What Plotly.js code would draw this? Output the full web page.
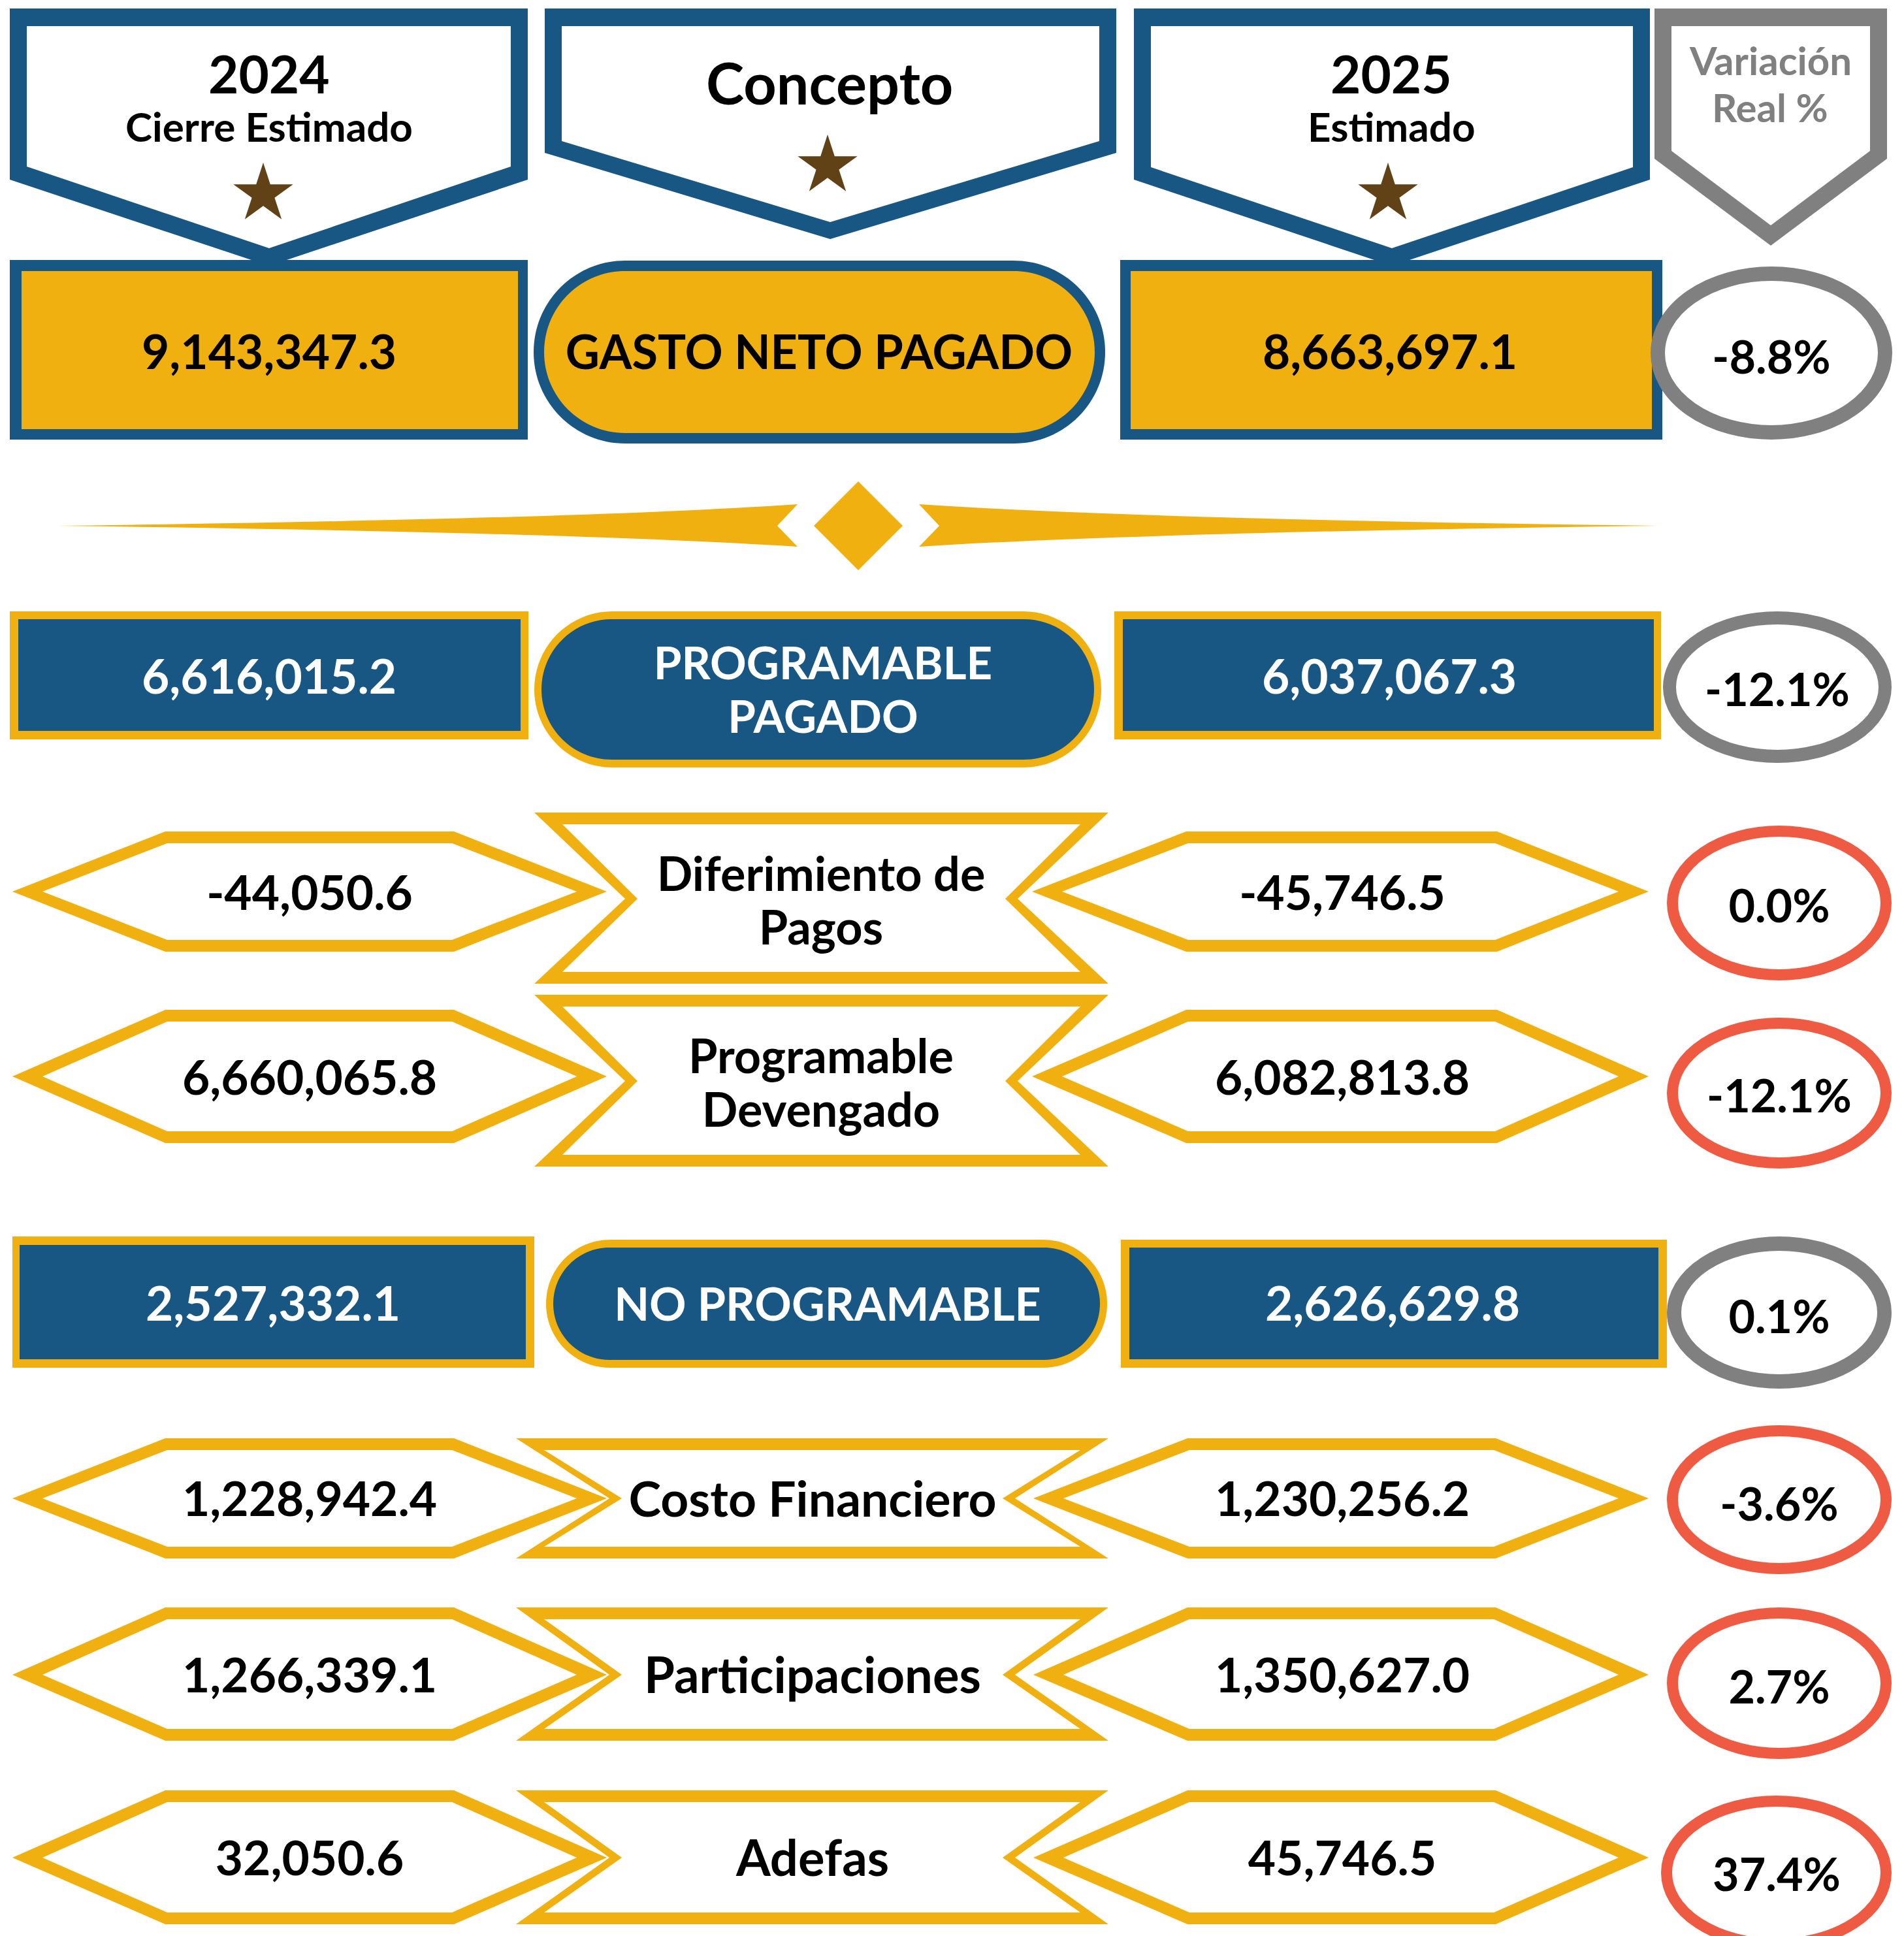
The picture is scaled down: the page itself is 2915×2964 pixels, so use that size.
<!DOCTYPE html>
<html><head><meta charset="utf-8">
<script src="https://cdn.plot.ly/plotly-3.0.1.min.js"></script>
<style>html,body{margin:0;padding:0;background:#fff;}</style>
</head><body><div id="chart" style="width:2915px;height:2964px;"></div>
<script>
// ---------------- DATA ----------------
const conceptos = ["GASTO NETO PAGADO", "PROGRAMABLE<br>PAGADO", "Diferimiento de<br>Pagos", "Programable<br>Devengado", "NO PROGRAMABLE", "Costo Financiero", "Participaciones", "Adefas"];
const cierre2024 = [9143347.3, 6616015.2, -44050.6, 6660065.8, 2527332.1, 1228942.4, 1266339.1, 32050.6];
const estimado2025 = [8663697.1, 6037067.3, -45746.5, 6082813.8, 2626629.8, 1230256.2, 1350627.0, 45746.5];
const variacionReal = [-8.8, -12.1, 0.0, -12.1, 0.1, -3.6, 2.7, 37.4];
const headerTitles = ["2024", "Concepto", "2025", "Variación"];
const headerSubtitles = ["Cierre Estimado", "", "Estimado", "Real %"];

// ---------------- STYLE / LAYOUT ----------------
const W = 2915, H = 2964;
const BLUE = "#185784", GOLD = "#F0B010", GRAY = "#808080", RED = "#EE5A42", BROWN = "#604216";
const FONT = "Lato, 'Noto Sans', 'DejaVu Sans', sans-serif";

const shapes = [];
function pathShape(d, fill) {
  shapes.push({type: 'path', path: d, fillcolor: fill, line: {width: 0}, layer: 'below', xref: 'x', yref: 'y'});
}
function poly(pts, fill) {
  pathShape('M' + pts.map(p => p[0] + ',' + p[1]).join(' L') + ' Z', fill);
}
function rect(x0, y0, x1, y1, fill) {
  shapes.push({type: 'rect', x0: x0, y0: y0, x1: x1, y1: y1, fillcolor: fill, line: {width: 0}, layer: 'below', xref: 'x', yref: 'y'});
}
function stadium(x0, y0, x1, y1, fill) {
  const r = (y1 - y0) / 2, k = 0.5523 * r;
  const d = `M${x0 + r},${y0} L${x1 - r},${y0} C${x1 - r + k},${y0} ${x1},${y0 + r - k} ${x1},${y0 + r} ` +
    `C${x1},${y0 + r + k} ${x1 - r + k},${y1} ${x1 - r},${y1} L${x0 + r},${y1} ` +
    `C${x0 + r - k},${y1} ${x0},${y0 + r + k} ${x0},${y0 + r} C${x0},${y0 + r - k} ${x0 + r - k},${y0} ${x0 + r},${y0} Z`;
  pathShape(d, fill);
}
function ellipse(x0, y0, x1, y1, color, w) {
  shapes.push({type: 'circle', x0: x0 + w / 2, y0: y0 + w / 2, x1: x1 - w / 2, y1: y1 - w / 2,
    fillcolor: '#ffffff', line: {color: color, width: w}, layer: 'below', xref: 'x', yref: 'y'});
}
function star(cx, cy, R, fill) {
  const pts = [];
  for (let i = 0; i < 10; i++) {
    const a = (-90 + i * 36) * Math.PI / 180;
    const r = (i % 2) ? R * 0.382 : R;
    pts.push([(cx + r * Math.cos(a)).toFixed(1), (cy + r * Math.sin(a)).toFixed(1)]);
  }
  poly(pts, fill);
}
function hexagon(L, TL, TR, R, top, bot, mid) {
  poly([[L, mid], [TL, top], [TR, top], [R, mid], [TR, bot], [TL, bot]], GOLD);
  poly([[L + 46, mid], [TL + 3, top + 18], [TR - 3, top + 18], [R - 46, mid], [TR - 3, bot - 18], [TL + 3, bot - 18]], '#ffffff');
}
function hourglass(TL, TR, ML, MR, top, bot, mid) {
  poly([[TL, top], [TR, top], [MR, mid], [TR, bot], [TL, bot], [ML, mid]], GOLD);
  poly([[TL + 43, top + 18], [TR - 43, top + 18], [MR - 19, mid], [TR - 43, bot - 18], [TL + 43, bot - 18], [ML + 19, mid]], '#ffffff');
}

// ---- header banners ----
function banner(x0, x1, px, sideY, ptY, inX0, inX1, inTop, inSide, inPt, color) {
  poly([[x0, 13], [x1, 13], [x1, sideY], [px, ptY], [x0, sideY]], color);
  poly([[inX0, inTop], [inX1, inTop], [inX1, inSide], [px, inPt], [inX0, inSide]], '#ffffff');
}
banner(15, 808, 412, 275, 407, 41, 782, 40, 255, 380, BLUE);
banner(834, 1709, 1271, 234, 366, 860, 1683, 40, 216, 340, BLUE);
banner(1736, 2526, 2131, 275, 407, 1762, 2500, 40, 256, 380, BLUE);
banner(2533, 2889, 2711, 243, 376, 2559, 2863, 40, 231, 345, GRAY);
star(403, 297, 48, BROWN);
star(1267, 254, 48, BROWN);
star(2125, 297, 48, BROWN);

// ---- row 0 : GASTO NETO PAGADO ----
rect(15, 398, 808, 673, BLUE); rect(33, 415, 793, 657, GOLD);
stadium(817, 399, 1692, 679, BLUE); stadium(833, 415, 1676, 663, GOLD);
rect(1715, 398, 2545, 673, BLUE); rect(1731, 415, 2529, 657, GOLD);
ellipse(2527, 408, 2897, 673, GRAY, 22);

// ---- ornament divider ----
pathShape('M89,805 Q880,795 1221,772 L1190,805 L1221,837 Q880,815 89,805 Z', GOLD);
pathShape('M2539,805 Q1748,795 1407,772 L1438,805 L1407,837 Q1748,815 2539,805 Z', GOLD);
poly([[1314, 737], [1382, 805], [1314, 873], [1246, 805]], GOLD);

// ---- row 1 : PROGRAMABLE PAGADO ----
rect(15, 936, 809, 1132, GOLD); rect(28, 948, 797, 1119, BLUE);
stadium(818, 936, 1686, 1175, GOLD); stadium(829, 948, 1675, 1163, BLUE);
rect(1706, 936, 2543, 1132, GOLD); rect(1719, 948, 2532, 1119, BLUE);
ellipse(2546, 936, 2896, 1168, GRAY, 20);

// ---- row 2 / 3 ----
hexagon(19, 253, 695, 929, 1273, 1457, 1365);
hourglass(818, 1697, 957, 1558, 1244, 1506, 1376);
hexagon(1580, 1816, 2292, 2524, 1273, 1457, 1365);
ellipse(2552, 1264, 2896, 1501, RED, 17);

hexagon(19, 253, 695, 929, 1546, 1750, 1648);
hourglass(818, 1697, 957, 1558, 1523, 1786, 1655);
hexagon(1580, 1816, 2292, 2524, 1546, 1750, 1648);
ellipse(2552, 1558, 2896, 1789, RED, 17);

// ---- row 4 : NO PROGRAMABLE ----
rect(19, 1893, 818, 2094, GOLD); rect(30, 1906, 805, 2081, BLUE);
stadium(836, 1898, 1695, 2094, GOLD); stadium(847, 1910, 1684, 2082, BLUE);
rect(1716, 1898, 2552, 2094, GOLD); rect(1729, 1910, 2539, 2081, BLUE);
ellipse(2552, 1893, 2896, 2126, GRAY, 22);

// ---- rows 5-7 ----
const hexRows = [[2202, 2386, 2294, 2182, 2410, 2552], [2461, 2665, 2564, 2461, 2693, 2552], [2741, 2946, 2844, 2749, 2985, 2543]];
hexRows.forEach(r => {
  hexagon(19, 253, 695, 929, r[0], r[1], r[2]);
  hourglass(790, 1697, 933, 1554, r[0], r[1], r[2]);
  hexagon(1582, 1818, 2290, 2524, r[0], r[1], r[2]);
  ellipse(r[5], r[3], 2896, r[4], RED, 17);
});

// ---------------- TEXT POSITIONS ----------------
const DY = 8;          // baseline correction of plotly text boxes
const LINE_GAP = 82;   // spacing between the two lines of a concept
const val2024X = [412, 412, 474, 474, 418, 474, 474, 474];
const valY = [539, 1036, 1367, 1650, 1996, 2295, 2565, 2845];
const conceptX = [1254, 1260, 1257, 1257, 1267, 1244, 1244, 1244];
const conceptY = [539, 1056, 1379, 1658, 1996, 2295, 2565, 2845];
const val2025X = [2128, 2127, 2055, 2055, 2132, 2055, 2055, 2055];
const varX = [2712, 2721, 2724, 2724, 2724, 2724, 2724, 2720];
const varY = [546, 1055, 1386, 1677, 2015, 2302, 2582, 2869];
const whiteRows = [1, 4];
const txtColor = i => whiteRows.includes(i) ? '#ffffff' : '#000000';
const conceptSizes = [72, 69, 72, 72, 70, 75, 76, 76];

const fmt = v => v.toLocaleString('en-US', {minimumFractionDigits: 1, maximumFractionDigits: 1});
const fmtPct = v => v.toFixed(1) + '%';

function textTrace(x, y, text, color, size) {
  return {type: 'scatter', mode: 'text', x: x, y: y.map(v => v + DY), text: text, textposition: 'middle center',
    textfont: {family: FONT, size: size, color: color, weight: 700}, hoverinfo: 'skip', cliponaxis: false, showlegend: false};
}

// split concept labels into single lines so the line gap matches
const cX = [], cY = [], cT = [], cC = [], cS = [];
conceptos.forEach((c, i) => {
  const lines = c.split('<br>');
  lines.forEach((ln, j) => {
    cX.push(conceptX[i]);
    cY.push(conceptY[i] + (j - (lines.length - 1) / 2) * LINE_GAP);
    cT.push(ln); cC.push(txtColor(i)); cS.push(conceptSizes[i]);
  });
});

const traces = [
  textTrace(val2024X, valY, cierre2024.map(fmt), cierre2024.map((v, i) => txtColor(i)), 73),
  textTrace(cX, cY, cT, cC, cS),
  textTrace(val2025X, valY, estimado2025.map(fmt), estimado2025.map((v, i) => txtColor(i)), 73),
  textTrace(varX, varY, variacionReal.map(fmtPct), '#000000', 70)
];

const headerX = [412, 1270, 2130, 2710];
const annotations = [];
headerTitles.forEach((t, i) => {
  const isVar = i === 3;
  annotations.push({x: headerX[i], y: isVar ? 92 : (i === 1 ? 126 : 112), xref: 'x', yref: 'y', text: t, showarrow: false,
    xanchor: 'center', yanchor: 'middle',
    font: {family: FONT, size: isVar ? 60 : (i === 1 ? 88 : 80), color: isVar ? GRAY : '#000000', weight: 700}});
  if (headerSubtitles[i]) {
    annotations.push({x: headerX[i], y: isVar ? 164 : 193, xref: 'x', yref: 'y', text: headerSubtitles[i], showarrow: false,
      xanchor: 'center', yanchor: 'middle',
      font: {family: FONT, size: isVar ? 60 : 62, color: isVar ? GRAY : '#000000', weight: 700}});
  }
});

const layout = {
  width: W, height: H, margin: {l: 0, r: 0, t: 0, b: 0},
  paper_bgcolor: '#ffffff', plot_bgcolor: '#ffffff', showlegend: false,
  xaxis: {range: [0, W], visible: false, fixedrange: true},
  yaxis: {range: [H, 0], visible: false, fixedrange: true},
  shapes: shapes, annotations: annotations
};
Plotly.newPlot('chart', traces, layout, {displayModeBar: false, staticPlot: true});
</script></body></html>
